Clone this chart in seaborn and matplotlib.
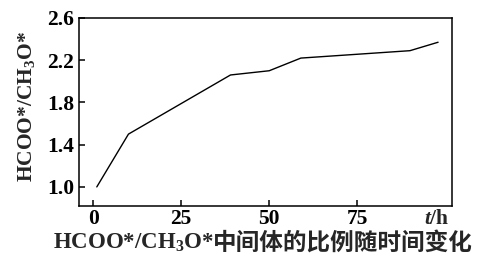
import numpy as np
import pandas as pd
import matplotlib
matplotlib.use("Agg")
import matplotlib.pyplot as plt
import seaborn as sns

# 数据
time_h = [1, 10, 39, 50, 59, 90, 98]
ratio = [1.0, 1.5, 2.06, 2.1, 2.22, 2.29, 2.37]
x_ticks = [0, 25, 50, 75]
y_ticks = [1.0, 1.4, 1.8, 2.2, 2.6]

df = pd.DataFrame({"t": time_h, "ratio": ratio})

sns.set_style("ticks")
plt.rcParams['font.family'] = ['Liberation Serif', 'DejaVu Serif', 'Noto Sans CJK SC']
plt.rcParams['mathtext.fontset'] = 'custom'
plt.rcParams['mathtext.rm'] = 'Liberation Serif:bold'
plt.rcParams['mathtext.it'] = 'Liberation Serif:italic:bold'
plt.rcParams['mathtext.bf'] = 'Liberation Serif:bold'

fig, ax = plt.subplots(figsize=(4.8, 2.64), dpi=100)
fig.subplots_adjust(left=0.165, right=0.942, top=0.932, bottom=0.22)

sns.lineplot(data=df, x="t", y="ratio", ax=ax, color="black", linewidth=1.0)

ax.set_xlim(-4, 102)
ax.set_ylim(0.82, 2.6)
ax.set_xticks(x_ticks)
ax.set_yticks(y_ticks)
ax.set_yticklabels([f"{v:.1f}" for v in y_ticks])
ax.tick_params(direction="in", length=4, width=1.1, labelsize=15.5, colors="black")
ax.tick_params(axis="x", pad=2)
ax.tick_params(axis="y", pad=3.5)
for lab in ax.get_xticklabels() + ax.get_yticklabels():
   lab.set_fontweight("bold")
for sp in ax.spines.values():
   sp.set_visible(True)
   sp.set_linewidth(1.1)
   sp.set_color("black")

ax.set_xlabel("")
ax.set_ylabel(r"HCOO*/CH$_3$O*", fontsize=15.5, fontweight="bold")
ax.yaxis.set_label_coords(-0.113, 0.53)

# t/h 标注在刻度行的右端
ax.text(437, 45, r"$t$/h", transform=None, fontsize=15.5, fontweight="bold",
        ha="center", va="center")

# 图注: 拉丁部分 + 中文部分
fig.text(214, 21, r"HCOO*/CH$_3$O*", transform=None, fontsize=16.5,
         fontweight="bold", ha="right", va="center")
fig.text(213, 21, "中间体的比例随时间变化", transform=None, fontsize=17,
         fontweight="bold", family=["Noto Sans CJK SC"], ha="left", va="center")

fig.savefig("out.png", dpi=100)
